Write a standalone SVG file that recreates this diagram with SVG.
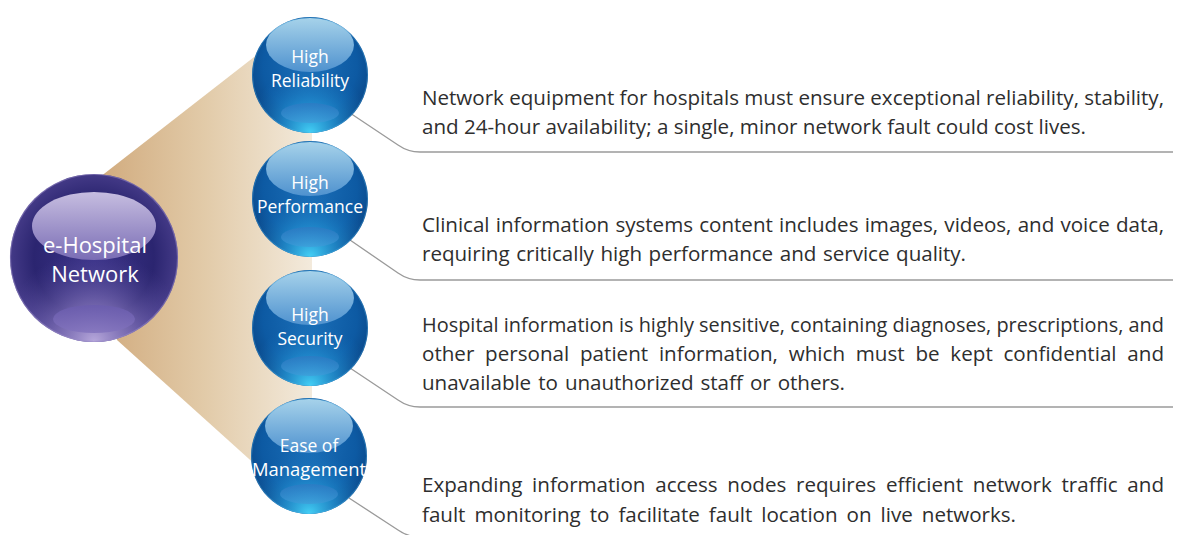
<svg xmlns="http://www.w3.org/2000/svg" width="1183" height="535" viewBox="0 0 1183 535">
<style>
.desc{font-family:"Open Sans","Noto Sans",sans-serif;font-size:20.6px;fill:#2e2e2e}
.lbl{font-family:"Open Sans","Noto Sans",sans-serif;font-size:17.5px;fill:#ffffff;text-anchor:middle}
.hub{font-family:"Open Sans","Noto Sans",sans-serif;font-size:22px;fill:#ffffff;text-anchor:middle}
.conn{fill:none;stroke:#9a9a9a;stroke-width:1.3}
</style>
<defs>
<linearGradient id="fanG" x1="100" y1="0" x2="312" y2="0" gradientUnits="userSpaceOnUse">
<stop offset="0" stop-color="#d1ab7e"/>
<stop offset="0.5" stop-color="#e2cba9"/>
<stop offset="1" stop-color="#f3eadc"/>
</linearGradient>
<radialGradient id="blueBase" cx="50%" cy="42%" r="58%">
<stop offset="0" stop-color="#1b6fb8"/>
<stop offset="0.7" stop-color="#0d5aa3"/>
<stop offset="1" stop-color="#0a4686"/>
</radialGradient>
<radialGradient id="blueGlow" cx="50%" cy="100%" r="55%">
<stop offset="0" stop-color="#45d2f7" stop-opacity="1"/>
<stop offset="0.45" stop-color="#2aa3e2" stop-opacity="0.6"/>
<stop offset="1" stop-color="#1a78c4" stop-opacity="0"/>
</radialGradient>
<linearGradient id="blueHi" x1="0" y1="0" x2="0" y2="1">
<stop offset="0" stop-color="#a6d2ea"/>
<stop offset="1" stop-color="#4f92cf"/>
</linearGradient>
<linearGradient id="blueLow" x1="0" y1="0" x2="0" y2="1">
<stop offset="0" stop-color="#2f78c2"/>
<stop offset="1" stop-color="#3f9bd8"/>
</linearGradient>
<radialGradient id="purBase" cx="50%" cy="50%" r="55%">
<stop offset="0" stop-color="#3a3288"/>
<stop offset="0.65" stop-color="#2b2570"/>
<stop offset="1" stop-color="#4c418f"/>
</radialGradient>
<radialGradient id="purGlow" cx="50%" cy="100%" r="55%">
<stop offset="0" stop-color="#b8a9dc" stop-opacity="1"/>
<stop offset="0.45" stop-color="#8e7ec4" stop-opacity="0.6"/>
<stop offset="1" stop-color="#5a4ea0" stop-opacity="0"/>
</radialGradient>
<linearGradient id="purHi" x1="0" y1="0" x2="0" y2="1">
<stop offset="0" stop-color="#c6bde0"/>
<stop offset="1" stop-color="#7a6db5"/>
</linearGradient>
<linearGradient id="purLow" x1="0" y1="0" x2="0" y2="1">
<stop offset="0" stop-color="#6a5cae"/>
<stop offset="1" stop-color="#8273bd"/>
</linearGradient>
<g id="blueSphere">
<circle r="58" fill="url(#blueBase)"/>
<circle r="58" fill="url(#blueGlow)"/>
<ellipse cx="0" cy="-30" rx="44" ry="27" fill="url(#blueHi)"/>
<ellipse cx="0" cy="38" rx="29" ry="10" fill="url(#blueLow)" opacity="0.7"/>
<circle r="57.5" fill="none" stroke="#4fb3e6" stroke-opacity="0.35" stroke-width="1"/>
</g>
</defs>

<g id="fan">
<polygon points="100,177 290,29 312,74 312,456 290,496 117,340" fill="url(#fanG)"/>
</g>

<g id="connectors">
<path class="conn" d="M350,113 L398,145 Q408,152 420,152 H1173"/>
<path class="conn" d="M350,240 L398,273 Q408,280 420,280 H1173"/>
<path class="conn" d="M350,368 L398,400 Q408,407 420,407 H1173"/>
<path class="conn" d="M349,498 L398,530 Q408,537 420,537 H1173"/>
</g>

<g id="hub">
<circle cx="94" cy="258" r="84" fill="url(#purBase)"/>
<circle cx="94" cy="258" r="84" fill="url(#purGlow)"/>
<ellipse cx="94" cy="226" rx="62" ry="34" fill="url(#purHi)"/>
<ellipse cx="94" cy="319" rx="41" ry="14" fill="url(#purLow)" opacity="0.85"/>
<circle cx="94" cy="258" r="83.5" fill="none" stroke="#9a8cc8" stroke-opacity="0.5" stroke-width="1.2"/>
<text class="hub" x="95" y="253">e-Hospital</text>
<text class="hub" x="95" y="282">Network</text>
</g>

<g id="reliability">
<use href="#blueSphere" x="310" y="75"/>
<text class="lbl" x="310" y="63">High</text>
<text class="lbl" x="310" y="87">Reliability</text>
</g>
<g id="performance">
<use href="#blueSphere" x="310" y="199"/>
<text class="lbl" x="310" y="189">High</text>
<text class="lbl" x="310" y="213">Performance</text>
</g>
<g id="security">
<use href="#blueSphere" x="310" y="328"/>
<text class="lbl" x="310" y="321">High</text>
<text class="lbl" x="310" y="345">Security</text>
</g>
<g id="management">
<use href="#blueSphere" x="309" y="456"/>
<text class="lbl" x="309" y="452">Ease of</text>
<text class="lbl" x="309" y="476" textLength="114" lengthAdjust="spacingAndGlyphs">Management</text>
</g>

<g id="desc-reliability">
<text class="desc" x="422" y="105" textLength="742" lengthAdjust="spacingAndGlyphs">Network equipment for hospitals must ensure exceptional reliability, stability,</text>
<text class="desc" x="422" y="134" textLength="664" lengthAdjust="spacing">and 24-hour availability; a single, minor network fault could cost lives.</text>
</g>
<g id="desc-performance">
<text class="desc" x="422" y="232" word-spacing="0.9" textLength="742" lengthAdjust="spacing">Clinical information systems content includes images, videos, and voice data,</text>
<text class="desc" x="422" y="261" word-spacing="1.3" textLength="544" lengthAdjust="spacing">requiring critically high performance and service quality.</text>
</g>
<g id="desc-security">
<text class="desc" x="422" y="332" style="font-size:19.9px" textLength="742" lengthAdjust="spacing">Hospital information is highly sensitive, containing diagnoses, prescriptions, and</text>
<text class="desc" x="422" y="361" word-spacing="5.4" textLength="742" lengthAdjust="spacing">other personal patient information, which must be kept confidential and</text>
<text class="desc" x="422" y="390" word-spacing="1.8" textLength="423" lengthAdjust="spacing">unavailable to unauthorized staff or others.</text>
</g>
<g id="desc-management">
<text class="desc" x="422" y="492" word-spacing="4.5" textLength="742" lengthAdjust="spacing">Expanding information access nodes requires efficient network traffic and</text>
<text class="desc" x="422" y="522" word-spacing="3.7" textLength="594" lengthAdjust="spacing">fault monitoring to facilitate fault location on live networks.</text>
</g>
</svg>
